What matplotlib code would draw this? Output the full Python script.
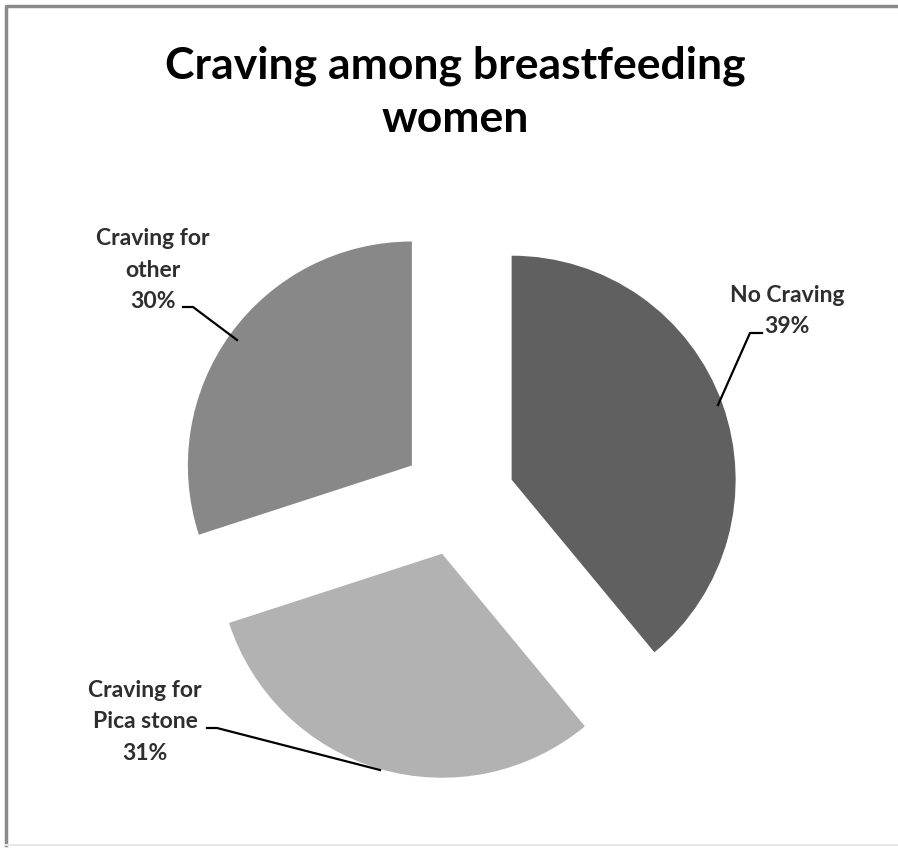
import matplotlib
matplotlib.use('Agg')
import matplotlib.pyplot as plt

# dati
categorie = ['No Craving', 'Craving for\nPica stone', 'Craving for\nother']
percentuali = [39, 31, 30]
colori = ['#606060', '#b2b2b2', '#888888']
titolo = 'Craving among breastfeeding\nwomen'

fig = plt.figure(figsize=(8.98, 8.5), dpi=100)
ax = fig.add_axes([0, 0, 1, 1])

ax.pie(percentuali, colors=colori, startangle=90, counterclock=False,
       center=(458, 351), radius=224, explode=[57, 57, 57],
       wedgeprops=dict(linewidth=0), frame=True)
ax.set_xlim(0, 898)
ax.set_ylim(0, 850)
ax.set_aspect('equal')
ax.axis('off')

# cornice
ax.plot([6, 6, 898], [5, 844, 844], color='#8a8a8a', lw=2.5, clip_on=False)
ax.plot([6, 898], [5, 5], color='#e8e8e8', lw=1.5)

font = dict(family=['Lato', 'DejaVu Sans'], fontweight='bold')
ax.text(455, 758, titolo, ha='center', va='center', fontsize=32,
        linespacing=1.4, color='black', **font)

# etichette con linee guida
etichette = [
    (f'{categorie[0]}\n{percentuali[0]}%', (787, 539), [(762, 750, 718), (517, 517, 445)]),
    (f'{categorie[1]}\n{percentuali[1]}%', (145, 128), [(207, 217, 380), (122, 122, 80)]),
    (f'{categorie[2]}\n{percentuali[2]}%', (153, 580), [(183, 193, 237), (543, 543, 510)]),
]
for testo, (tx, ty), (lx, ly) in etichette:
    ax.text(tx, ty, testo, ha='center', va='center', fontsize=16.5,
            linespacing=1.6, color='#2e2e2e', **font)
    ax.plot(lx, ly, color='black', lw=1.6)

fig.savefig('out.png', dpi=100, facecolor='white')
